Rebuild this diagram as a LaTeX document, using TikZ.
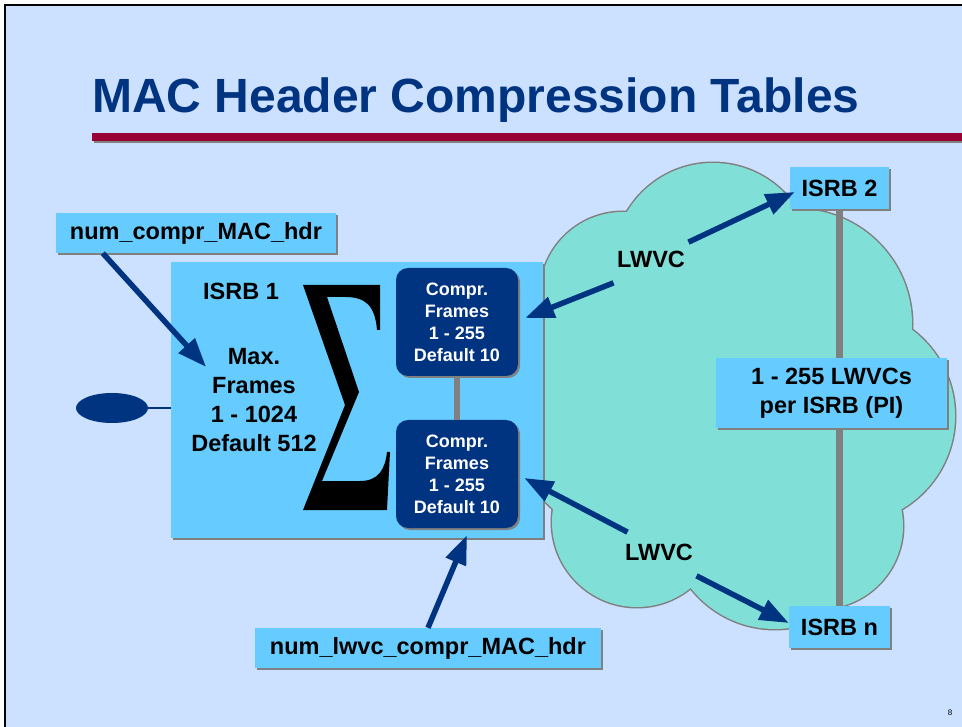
\documentclass[tikz,border=0pt]{standalone}
\usepackage{fontspec}
\setmainfont{Liberation Sans}
\usetikzlibrary{arrows.meta,calc,positioning,shapes.geometric,shadows}

\definecolor{slidebg}{HTML}{CCE0FF}
\definecolor{boxblue}{HTML}{66CCFF}
\definecolor{navy}{HTML}{003380}
\definecolor{cloudteal}{HTML}{80E0D8}
\definecolor{titlered}{HTML}{990033}

\begin{document}
\begin{tikzpicture}[x=1pt,y=-1pt,
  font=\bfseries\fontsize{23.5}{29}\selectfont,
  shade box/.style={drop shadow={shadow xshift=2pt,shadow yshift=-2pt,fill=gray,opacity=1}},
  lbox/.style={fill=boxblue, inner sep=0pt, align=center, shade box},
  cbox/.style={fill=navy, text=white, rounded corners=12pt, inner sep=0pt,
    minimum width=122pt, minimum height=108pt, align=center,
    font=\bfseries\fontsize{18}{22}\selectfont, shade box},
  arr/.style={draw=navy, line width=5.5pt, -{Triangle[length=29pt,width=21pt]}},
  bar/.style={draw=gray, line width=6pt}
]
  \useasboundingbox (0,0) rectangle (962,727);
  \fill[white] (0,0) rectangle (962,727);
  \filldraw[fill=slidebg, draw=black, line width=2pt] (5,5) rectangle (972,737);

  % title
  \node[anchor=base west, inner sep=0pt, text=navy,
        font=\bfseries\fontsize{48}{56}\selectfont] (title) at (92,113)
        {MAC Header Compression Tables};
  \fill[titlered, shade box] (92,133) rectangle (962,141);

  % cloud
  \foreach \cx/\cy/\r in {713/263/100, 797/324/115, 847/416/108, 820/526/83,
                          775/522/107, 637/522/85, 660/390/160, 623/295/83}
    \fill[gray] (\cx,\cy) circle[radius={\r pt+1.5pt}];
  \foreach \cx/\cy/\r in {713/263/100, 797/324/115, 847/416/108, 820/526/83,
                          775/522/107, 637/522/85, 660/390/160, 623/295/83}
    \fill[cloudteal] (\cx,\cy) circle[radius={\r pt}];

  % ISRB 1
  \node[lbox, minimum width=372pt, minimum height=276pt] (isrbone) at (357,400) {};
  \node (isrbonelbl) at (241,291) {ISRB 1};
  \node[align=center, inner sep=0pt] (maxfr) at (254,400)
        {Max.\\Frames\\1 - 1024\\Default 512};
  % sum sign
  \fill[black] (303,285) -- (380,285) -- (380,330) -- (377,330)
    .. controls (375,305) and (365,297) .. (345,297) -- (327,297)
    -- (359,392) -- (322,481) -- (360,481)
    .. controls (378,481) and (385,470) .. (387,452) -- (390,452)
    -- (387,510) -- (303,510) -- (345,405) -- cycle;
  \node[cbox] (comprA) at (457,322) {Compr.\\Frames\\1 - 255\\Default 10};
  \node[cbox] (comprB) at (457,474) {Compr.\\Frames\\1 - 255\\Default 10};
  \draw[bar] (comprA.south) -- (comprB.north);

  \node[ellipse, fill=navy, minimum width=72pt, minimum height=30pt,
        inner sep=0pt] (ell) at (112,408) {};
  \draw[navy, line width=2pt] (ell.east) -- (ell -| isrbone.west);

  % parameter boxes
  \node[lbox, minimum width=280pt, minimum height=40pt] (numc) at (196,233)
        {num\_compr\_MAC\_hdr};
  \node[lbox, minimum width=346pt, minimum height=40pt] (numlwvc) at (428,648)
        {num\_lwvc\_compr\_MAC\_hdr};

  % far ends
  \node[lbox, minimum width=99pt, minimum height=42pt] (isrbtwo) at (839.5,188) {ISRB 2};
  \node[lbox, minimum width=101pt, minimum height=42pt] (isrbn) at (839.5,627) {ISRB n};
  \draw[bar, line width=7pt] (isrbtwo.south) -- (isrbn.north);
  \node[lbox, minimum width=231pt, minimum height=70pt] (perisrb) at (831.5,393)
        {1 - 255 LWVCs\\per ISRB (PI)};

  \node (lwvcA) at (651,259) {LWVC};
  \node (lwvcB) at (659,552) {LWVC};

  % arrows
  \draw[arr] ([yshift=5pt]lwvcA.north east) -- ([xshift=5pt,yshift=-4pt]isrbtwo.west);
  \draw[arr] ([yshift=-12pt]lwvcA.south west) -- ([xshift=7pt,yshift=4pt]comprA.east);
  \draw[arr] ([xshift=6pt,yshift=8pt]lwvcB.north west) -- ([xshift=6pt,yshift=-4pt]comprB.east);
  \draw[arr] ([yshift=-12pt]lwvcB.south east) -- ([yshift=4pt]isrbn.west);
  \draw[arr] ($(numc.south west)+(47,0)$) -- ($(maxfr.west)+(15,-33)$);
  \draw[arr] (numlwvc.north) -- ($(comprB.south)+(10,7)$);

  \node[font=\fontsize{8}{9}\selectfont] (pageno) at (950,713) {8};
\end{tikzpicture}
\end{document}
